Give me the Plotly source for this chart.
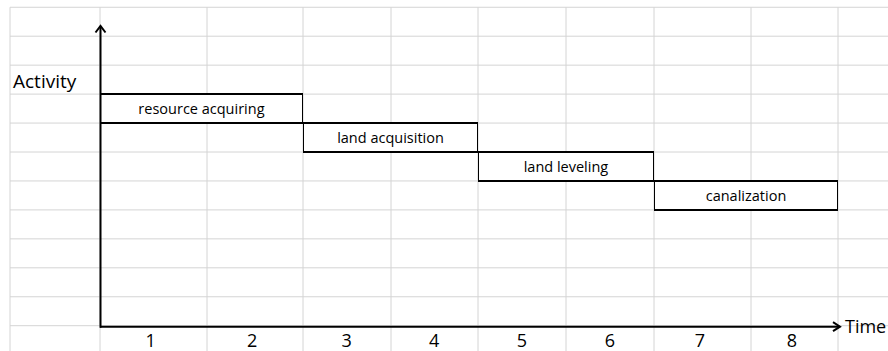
import plotly.graph_objects as go

# ---- data: project phases on a time line of periods ----
activities = ["resource acquiring", "land acquisition", "land leveling", "canalization"]
start_period = [0, 2, 4, 6]
duration = [2, 2, 2, 2]
period_labels = ["1", "2", "3", "4", "5", "6", "7", "8"]

# ---- sheet-style layout (pixels) ----
W, H = 888, 351
COL_EDGES = [10, 100, 207, 303, 391, 478, 566, 654, 751, 838]
ROW_PITCH = 28.95
ROW0 = 325.7          # pixel row of the time axis
SHEET_TOP_ROW = 11    # rows of the sheet above the time axis
FIRST_ROW = 8         # top edge (in rows) of the first phase
AXIS_Y = 326.7
FONT = "Open Sans"
GRID = "#d4d4d4"


def px(x):
    return x / W


def py(y):
    return 1 - y / H


fig = go.Figure()
layout_axes = {}

for i, name in enumerate(activities):
    s, d = start_period[i], duration[i]
    ax_id = "" if i == 0 else str(i + 1)
    fig.add_trace(go.Bar(
        orientation="h",
        base=[s], x=[d], y=[FIRST_ROW - i - 0.5], width=[1],
        xaxis="x" + ax_id, yaxis="y",
        marker=dict(color="white", line=dict(color="black", width=2)),
        text=[name], textposition="inside", insidetextanchor="middle",
        textfont=dict(family=FONT, size=14.5, color="black"),
        hoverinfo="skip", showlegend=False,
    ))
    # each phase owns the stretch of the time axis its columns cover
    left, right = COL_EDGES[1 + s], COL_EDGES[1 + s + d]
    layout_axes["xaxis" + ax_id] = dict(
        domain=[px(left), px(right)], range=[s, s + d],
        anchor="free", position=py(AXIS_Y),
        tickmode="array",
        tickvals=[s + k + 0.5 for k in range(d)],
        ticktext=period_labels[s:s + d],
        ticks="", ticklabelstandoff=1, automargin=False,
        showgrid=False, zeroline=False, showline=False,
        tickfont=dict(family=FONT, size=18, color="black"),
        fixedrange=True,
    )

shapes = []
# sheet grid: rows
for k in range(SHEET_TOP_ROW + 1):
    shapes.append(dict(type="line", xref="paper", yref="y",
                       x0=px(COL_EDGES[0]), x1=1, y0=k, y1=k,
                       line=dict(color=GRID, width=1), layer="below"))
# sheet grid: columns
for cx in COL_EDGES:
    shapes.append(dict(type="line", xref="paper", yref="paper",
                       x0=px(cx), x1=px(cx), y0=0, y1=py(ROW0 - SHEET_TOP_ROW * ROW_PITCH),
                       line=dict(color=GRID, width=1), layer="below"))

# axes with open arrowheads
black = dict(color="black", width=2)
ax_x = COL_EDGES[1] + 0.5
shapes.append(dict(type="line", xref="paper", yref="paper",
                   x0=px(ax_x), x1=px(ax_x), y0=py(AXIS_Y + 1), y1=py(26),
                   line=black, layer="above"))
shapes.append(dict(type="path", xref="paper", yref="paper",
                   path=f"M {px(ax_x - 5)} {py(32.5)} L {px(ax_x)} {py(26)} L {px(ax_x + 5)} {py(32.5)}",
                   line=black, layer="above"))
shapes.append(dict(type="line", xref="paper", yref="paper",
                   x0=px(ax_x - 0.5), x1=px(840), y0=py(AXIS_Y), y1=py(AXIS_Y),
                   line=black, layer="above"))
shapes.append(dict(type="path", xref="paper", yref="paper",
                   path=f"M {px(833)} {py(AXIS_Y - 4.5)} L {px(840)} {py(AXIS_Y)} L {px(833)} {py(AXIS_Y + 4.5)}",
                   line=black, layer="above"))

annotations = [
    dict(text="Activity", xref="paper", yref="paper", x=px(11), y=py(81),
         xanchor="left", yanchor="middle", showarrow=False,
         font=dict(family=FONT, size=19, color="black")),
    dict(text="Time", xref="paper", yref="paper", x=px(843), y=py(326),
         xanchor="left", yanchor="middle", showarrow=False,
         font=dict(family=FONT, size=18, color="black")),
]

fig.update_layout(
    width=W, height=H,
    margin=dict(l=0, r=0, t=0, b=0, autoexpand=False),
    paper_bgcolor="white", plot_bgcolor="white",
    yaxis=dict(domain=[0, 1], range=[-(H - ROW0) / ROW_PITCH, ROW0 / ROW_PITCH],
               visible=False, fixedrange=True, automargin=False),
    shapes=shapes, annotations=annotations,
    bargap=0, showlegend=False,
    **layout_axes,
)

fig.write_html("out.html", config={"displayModeBar": False})
